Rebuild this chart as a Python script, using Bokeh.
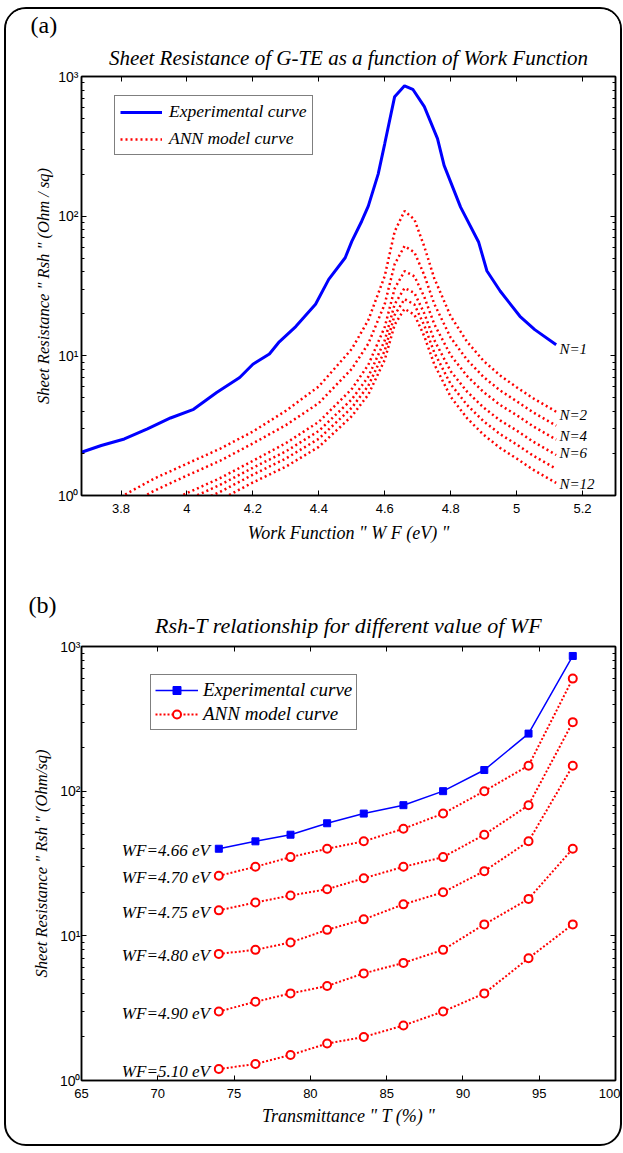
from bokeh.plotting import figure
from bokeh.models import (Range1d, LogAxis, LinearAxis, FixedTicker, CustomJSTickFormatter,
                          Label, Legend, LegendItem, Title)
from bokeh.layouts import column
from bokeh.embed import file_html
from bokeh.resources import INLINE

# ---------------- Panel (a) data ----------------
wf_exp = [3.68, 3.74, 3.81, 3.88, 3.95, 4.02, 4.09, 4.16, 4.20, 4.25, 4.28, 4.33, 4.39, 4.43,
          4.48, 4.50, 4.53, 4.55, 4.58, 4.60, 4.63, 4.66, 4.685, 4.72, 4.76, 4.78, 4.83, 4.885,
          4.91, 4.95, 5.01, 5.055, 5.12]
rsh_exp = [2.04, 2.28, 2.54, 3.0, 3.59, 4.14, 5.47, 7.0, 8.7, 10.3, 12.6, 16.2, 23.4, 35.3,
           50.4, 66, 92, 118, 200, 331, 717, 857, 810, 608, 359, 231, 116, 65,
           40.5, 29.1, 19.2, 15.4, 12.0]

wf_ann = [3.68, 3.80, 3.90, 4.00, 4.10, 4.20, 4.30, 4.40, 4.50, 4.55, 4.60, 4.63, 4.66, 4.69,
          4.72, 4.75, 4.80, 4.85, 4.90, 4.95, 5.00, 5.05, 5.12]
ann_n2 = [0.68, 0.98, 1.32, 1.69, 2.16, 2.87, 4.04, 6.04, 11.2, 18.0, 37.3, 77.6, 109, 94.6,
          60.5, 36.0, 19.2, 12.6, 9.18, 7.24, 5.96, 4.97, 3.98]
ann_n4 = [0.56, 0.80, 1.08, 1.39, 1.77, 2.36, 3.19, 4.59, 8.07, 12.2, 23.5, 45.3, 61.1, 55.1,
          37.8, 23.6, 13.5, 9.35, 7.05, 5.65, 4.73, 3.94, 3.16]
ann_n6 = [0.42, 0.60, 0.81, 1.04, 1.33, 1.77, 2.37, 3.37, 5.79, 8.61, 16.1, 30.3, 40.4, 37.1,
          26.4, 16.9, 10.1, 7.16, 5.50, 4.45, 3.76, 3.13, 2.51]
ann_n8 = [0.38, 0.54, 0.72, 0.93, 1.19, 1.58, 2.07, 2.90, 4.88, 7.08, 12.9, 23.4, 30.6, 28.2,
          20.1, 13.0, 7.76, 5.53, 4.26, 3.45, 2.92, 2.43, 1.95]
ann_n10 = [0.34, 0.48, 0.65, 0.83, 1.06, 1.41, 1.84, 2.55, 4.25, 6.10, 10.9, 19.6, 25.5, 23.3,
           16.5, 10.6, 6.27, 4.44, 3.40, 2.75, 2.32, 1.93, 1.55]
ann_n12 = [0.30, 0.42, 0.57, 0.73, 0.93, 1.24, 1.61, 2.23, 3.70, 5.27, 9.38, 16.7, 21.7, 19.7,
           13.8, 8.73, 5.09, 3.57, 2.72, 2.19, 1.84, 1.53, 1.23]
ann_series_a = [ann_n2, ann_n4, ann_n6, ann_n8, ann_n10, ann_n12]

n_labels = ["N=1", "N=2", "N=4", "N=6", "N=12"]
n_label_y = [11.2, 3.8, 2.68, 2.03, 1.2]
n_label_x = 5.13

xticks_a = [3.8, 4.0, 4.2, 4.4, 4.6, 4.8, 5.0, 5.2]
decades = [1, 10, 100, 1000]

# ---------------- Panel (b) data ----------------
trans = [74.0, 76.4, 78.7, 81.1, 83.5, 86.1, 88.7, 91.4, 94.3, 97.2]
exp_b = [40, 45, 50, 60, 70, 80, 100, 140, 250, 860]
wf470 = [26, 30, 35, 40, 45, 55, 70, 100, 150, 600]
wf475 = [15, 17, 19, 21, 25, 30, 35, 50, 80, 300]
wf480 = [7.5, 8, 9, 11, 13, 16.5, 20, 28, 45, 150]
wf490 = [3, 3.5, 4, 4.5, 5.5, 6.5, 8, 12, 18, 40]
wf510 = [1.2, 1.3, 1.5, 1.8, 2, 2.4, 3, 4, 7, 12]
ann_series_b = [wf470, wf475, wf480, wf490, wf510]
wf_labels = ["WF=4.66 eV", "WF=4.70 eV", "WF=4.75 eV", "WF=4.80 eV", "WF=4.90 eV", "WF=5.10 eV"]
xticks_b = [65, 70, 75, 80, 85, 90, 95, 100]

SERIF = "Liberation Serif"
SANS = "Liberation Sans"
minor_log = [m * d for d in [1, 10, 100] for m in range(2, 10)]

sup_fmt = CustomJSTickFormatter(code="""
const s = ['\u2070', '\u00b9', '\u00b2', '\u00b3'];
const e = Math.round(Math.log10(tick));
return '10' + s[e];
""")
blank_fmt = CustomJSTickFormatter(code="return '';")


def style_axis(ax, minor=True, labels=True):
    ax.axis_line_color = "black"
    ax.axis_line_width = 1.5
    ax.major_tick_line_color = "black"
    ax.major_tick_line_width = 1
    ax.major_tick_in = 5
    ax.major_tick_out = 0
    ax.minor_tick_line_color = "black" if minor else None
    ax.minor_tick_in = 3
    ax.minor_tick_out = 0
    ax.major_label_text_font = SANS
    ax.major_label_text_font_size = "13px"
    ax.major_label_text_color = "black"
    ax.axis_label_text_color = "black"
    if not labels:
        ax.major_label_standoff = 0


def base_fig(h, xr, yr, ml, mr, mt, mb):
    p = figure(width=614, height=h, x_range=xr, y_range=yr, y_axis_type="log",
               output_backend="svg", toolbar_location=None, title=None,
               min_border_left=ml, min_border_right=mr, min_border_top=mt, min_border_bottom=mb)
    p.grid.grid_line_color = None
    p.outline_line_color = "black"
    p.outline_line_width = 1.5
    p.background_fill_color = "white"
    p.border_fill_color = "white"
    return p


def add_box_axes(p, xt, yt):
    top = LinearAxis(ticker=FixedTicker(ticks=xt), formatter=blank_fmt)
    style_axis(top, minor=False, labels=False)
    p.add_layout(top, "above")
    right = LogAxis(ticker=FixedTicker(ticks=decades, minor_ticks=minor_log), formatter=blank_fmt)
    style_axis(right, minor=True, labels=False)
    p.add_layout(right, "right")


def add_title(p, main, size, st):
    p.add_layout(Title(text=main, align="center", text_font=SERIF, text_font_style="italic",
                       text_font_size=size, text_color="black", standoff=st), "above")


def tag_title(p, tag, off, st, side):
    p.add_layout(Title(text=tag, align="left", offset=off, text_font=SERIF,
                       text_font_style="normal", text_font_size="24px", text_color="black",
                       standoff=st), side)


def text(p, x, y, s, size, xo=0, yo=0, align="left", base="middle", style="italic"):
    p.add_layout(Label(x=x, y=y, text=s, x_offset=xo, y_offset=yo, text_align=align,
                       text_baseline=base, text_font=SERIF,
                       text_font_style=style, text_font_size=size, text_color="black"))


def style_legend(leg, size, standoff, glyph_w, spacing, pad):
    leg.label_text_font = SERIF
    leg.label_text_font_style = "italic"
    leg.label_text_font_size = size
    leg.label_text_color = "black"
    leg.border_line_color = "black"
    leg.border_line_width = 1.5
    leg.padding = pad
    leg.spacing = spacing
    leg.margin = 0
    leg.glyph_width = glyph_w
    leg.glyph_height = 20
    leg.label_height = 20
    leg.label_standoff = standoff


# ================= Panel (a) =================
# p1 reaches further down so that the "(b)" tag can sit in its lower border area
p1 = base_fig(666, Range1d(3.68, 5.30), Range1d(1, 1000), 71, 1, 66, 180)
p1.xaxis.ticker = FixedTicker(ticks=xticks_a)
p1.xaxis.formatter = CustomJSTickFormatter(code="return (Math.round(tick*10)/10).toString();")
p1.yaxis.ticker = FixedTicker(ticks=decades, minor_ticks=minor_log)
p1.yaxis.formatter = sup_fmt
for ax in p1.xaxis:
    style_axis(ax, minor=False)
    ax.major_label_standoff = 8
    ax.axis_label = 'Work Function " W F (eV) "'
    ax.axis_label_text_font = SERIF
    ax.axis_label_text_font_style = "italic"
    ax.axis_label_text_font_size = "18px"
    ax.axis_label_standoff = 7
for ax in p1.yaxis:
    style_axis(ax, minor=True)
    ax.major_label_text_font_size = "14px"
    ax.major_label_standoff = 3
    ax.axis_label = 'Sheet Resistance " Rsh " (Ohm / sq)'
    ax.axis_label_text_font = SERIF
    ax.axis_label_text_font_style = "italic"
    ax.axis_label_text_font_size = "16.5px"
    ax.axis_label_standoff = 2
add_box_axes(p1, xticks_a, decades)
add_title(p1, "Sheet Resistance of G-TE as a function of Work Function", "21px", 13)
tag_title(p1, "(a)", -51, 0, "above")
tag_title(p1, "(b)", -53, 88, "below")

r_exp = p1.line(wf_exp, rsh_exp, line_color="#0000ff", line_width=3)
r_ann = None
for s in ann_series_a:
    r = p1.line(wf_ann, s, line_color="#ff0000", line_width=2.5, line_dash="2 3")
    r_ann = r_ann or r

leg1 = Legend(items=[LegendItem(label="Experimental curve", renderers=[r_exp]),
                     LegendItem(label="ANN model curve", renderers=[r_ann])],
              location=(33, 340))
style_legend(leg1, "17.5px", 7, 42, 6, 5)
p1.add_layout(leg1)

for s, yv in zip(n_labels, n_label_y):
    text(p1, n_label_x, yv, s, "15px")

# ================= Panel (b) =================
p2 = base_fig(564, Range1d(65, 100), Range1d(1, 1000), 75, 5, 66, 64)
p2.border_fill_alpha = 0
p2.margin = (-95, 0, 0, 0)
p2.xaxis.ticker = FixedTicker(ticks=xticks_b)
p2.yaxis.ticker = FixedTicker(ticks=decades, minor_ticks=minor_log)
p2.yaxis.formatter = sup_fmt
for ax in p2.xaxis:
    style_axis(ax, minor=False)
    ax.major_label_standoff = 8
    ax.axis_label = 'Transmittance " T (%) "'
    ax.axis_label_text_font = SERIF
    ax.axis_label_text_font_style = "italic"
    ax.axis_label_text_font_size = "18px"
    ax.axis_label_standoff = 5
for ax in p2.yaxis:
    style_axis(ax, minor=True)
    ax.major_label_text_font_size = "14px"
    ax.major_label_standoff = 1
    ax.axis_label = 'Sheet Resistance " Rsh " (Ohm/sq)'
    ax.axis_label_text_font = SERIF
    ax.axis_label_text_font_style = "italic"
    ax.axis_label_text_font_size = "16.5px"
    ax.axis_label_standoff = 6
add_box_axes(p2, xticks_b, decades)
add_title(p2, "Rsh-T relationship for different value of WF", "22px", 17)

rb_line = p2.line(trans, exp_b, line_color="#0000ff", line_width=1.5)
rb_mark = p2.scatter(trans, exp_b, marker="square", size=7, fill_color="#0000ff",
                     line_color="#0000ff")
ann_l = ann_m = None
for s in ann_series_b:
    l = p2.line(trans, s, line_color="#ff0000", line_width=2, line_dash="2 2")
    m = p2.scatter(trans, s, marker="circle", size=8, fill_color="white",
                   line_color="#ff0000", line_width=2)
    ann_l = ann_l or l
    ann_m = ann_m or m

leg2 = Legend(items=[LegendItem(label="Experimental curve", renderers=[rb_line, rb_mark]),
                     LegendItem(label="ANN model curve", renderers=[ann_l, ann_m])],
              location=(69, 350))
style_legend(leg2, "19px", 5, 43, 2, 4)
p2.add_layout(leg2)

all_b = [exp_b] + ann_series_b
for s, ser in zip(wf_labels, all_b):
    text(p2, trans[0], ser[0], s, "17px", xo=-9, yo=-2, align="right")

layout = column(p1, p2, margin=(7, 0, 0, 4),
                styles={"border": "2px solid black", "border-radius": "22px",
                        "overflow": "hidden", "background-color": "white"})

open("out.html", "w").write(file_html(layout, INLINE))
